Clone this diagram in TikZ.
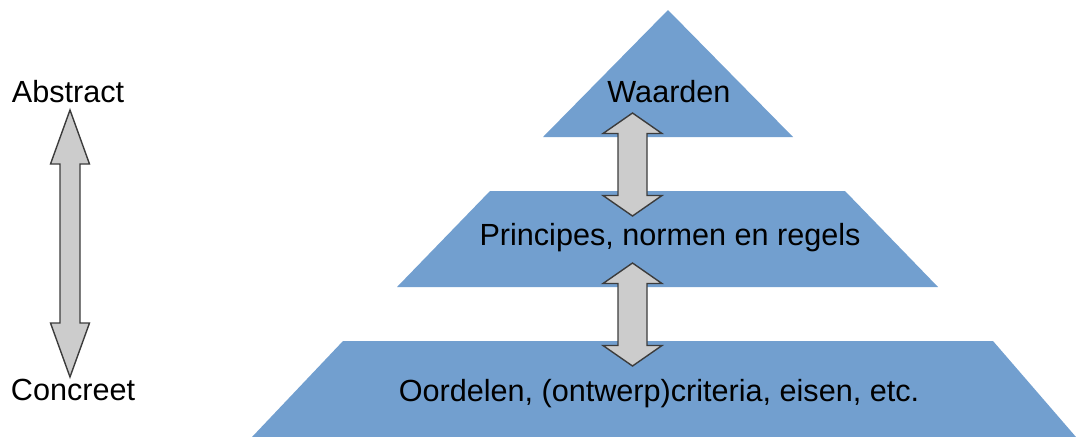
\documentclass[tikz,border=0pt]{standalone}
\usepackage{fontspec}
\setmainfont{Liberation Sans}
\usepackage{tikz}
\usetikzlibrary{calc}

\definecolor{layerblue}{HTML}{729FCF}
\definecolor{arrowgrey}{HTML}{CCCCCC}
\definecolor{arrowline}{HTML}{3C3C3C}

\tikzset{
  layer/.style={fill=layerblue, draw=none},
  lbl/.style={anchor=base, inner sep=0pt, font=\fontsize{15.3}{18}\selectfont},
  arrowbox/.style={fill=arrowgrey, draw=arrowline, line width=0.7pt, line join=miter}
}

% block arrow: top tip, bottom tip, half shaft, half head, head length
\newcommand{\blockarrow}[5]{%
  \draw[arrowbox] (#1) -- ($(#1)+(#4,#5)$) -- ($(#1)+(#3,#5)$)
    -- ($(#2)+(#3,-#5)$) -- ($(#2)+(#4,-#5)$) -- (#2)
    -- ($(#2)+(-#4,-#5)$) -- ($(#2)+(-#3,-#5)$)
    -- ($(#1)+(-#3,#5)$) -- ($(#1)+(-#4,#5)$) -- cycle;}

\begin{document}
\begin{tikzpicture}[x=0.5pt, y=-0.5pt]
  \useasboundingbox (0,0) rectangle (1076,436);
  \clip (0,0) rectangle (1076,436);

  % Define layers
  \fill[layer] (668,10) -- (793,137) -- (543,137) -- cycle;
  \fill[layer] (490,191) -- (845,191) -- (938,287) -- (397,287) -- cycle;
  \fill[layer] (343,341) -- (993,341) -- (1076,437) -- (252,437) -- cycle;

  % Define nodes
  \node[lbl] (waarden)   at (669,102) {Waarden};
  \node[lbl] (principes) at (670,245) {Principes, normen en regels};
  \node[lbl] (oordelen)  at (659,401) {Oordelen, (ontwerp)criteria, eisen, etc.};
  \node[lbl] (abstract)  at (68,102)  {Abstract};
  \node[lbl] (concreet)  at (73,400)  {Concreet};

  \coordinate (abs-tip) at (70,110);
  \coordinate (con-tip) at (70,377);
  \coordinate (w-top)   at (632.5,113);
  \coordinate (w-bot)   at (632.5,216);
  \coordinate (p-top)   at (632.5,263);
  \coordinate (p-bot)   at (632.5,366);

  % Connect the nodes
  \blockarrow{abs-tip}{con-tip}{10}{19.5}{54}
  \blockarrow{w-top}{w-bot}{14.5}{29.5}{20.5}
  \blockarrow{p-top}{p-bot}{14.5}{29.5}{20.5}
\end{tikzpicture}
\end{document}
